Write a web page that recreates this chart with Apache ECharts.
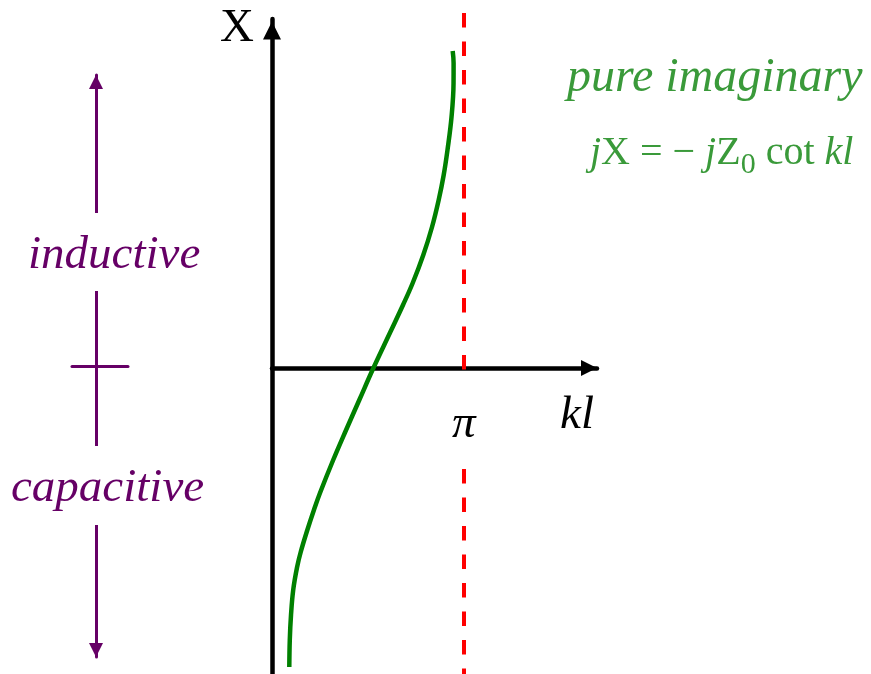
<!DOCTYPE html>
<html>
<head>
<meta charset="utf-8">
<script src="https://cdn.jsdelivr.net/npm/echarts@6/dist/echarts.min.js"></script>
<style>
  html, body { margin: 0; padding: 0; background: #fff; }
  #chart { width: 871px; height: 674px; }
</style>
</head>
<body>
<div id="chart"></div>
<script>
// Input reactance of a short-circuited stub: X = -Z0 cot(kl), sketched for 0 < kl < pi
const klValues  = [0.283, 0.291, 0.311, 0.347, 0.411, 0.470, 0.578, 0.686, 0.785, 1.001, 1.212, 1.428, 1.659,
                   1.936, 2.143, 2.302, 2.475, 2.618, 2.727, 2.809, 2.871, 2.937, 2.970, 2.971, 2.956];
const reactance = [-2.99, -2.72, -2.47, -2.22, -1.99, -1.84, -1.62, -1.42, -1.25, -0.92, -0.62, -0.32, 0.00,
                   0.36, 0.63, 0.85, 1.13, 1.41, 1.68, 1.93, 2.18, 2.51, 2.85, 3.05, 3.17];
const asymptoteKl = Math.PI;          // kl = pi, where the reactance diverges
const asymptoteLabel = 'π';
const xAxisName = 'kl';
const yAxisName = 'X';
const curveTitle = 'pure imaginary';
const upperRegion = 'inductive';
const lowerRegion = 'capacitive';

const klRange = [0, 5.317];
const xRange = [-3.06, 3.55];

const serif = '"Liberation Serif", "Times New Roman", serif';
const green = '#3a9a3a';
const purple = '#660066';
const arrow = 'path://M5,0L10,10L0,10Z';

const curveData = klValues.map((v, i) => [v, reactance[i]]);

const chart = echarts.init(document.getElementById('chart'), null, { renderer: 'canvas' });

const gridBase = { outerBoundsMode: 'none', containLabel: false };
const hiddenAxisParts = { axisTick: { show: false }, axisLabel: { show: false }, splitLine: { show: false } };

chart.setOption({
  animation: false,
  backgroundColor: '#fff',
  grid: [
    // plotting area of the curve and the kl axis
    Object.assign({ left: 272, right: 274, top: 13, bottom: 0 }, gridBase),
    // the X axis line with its arrow
    Object.assign({ left: 272, right: 274, top: 19, bottom: 0 }, gridBase),
    // inductive / capacitive guide on the left
    Object.assign({ left: 72, right: 743, top: 75, bottom: 17 }, gridBase)
  ],
  title: [
    {
      text: curveTitle, left: 567, top: 55, padding: 0,
      textStyle: { fontFamily: serif, fontStyle: 'italic', fontWeight: 'normal',
                   fontSize: 48, lineHeight: 47, color: green }
    },
    {
      text: '{i|j}{r|X = − }{i|j}{r|Z}{s|0}{r| cot }{i|kl}', left: 590, top: 130, padding: 0,
      textStyle: {
        color: green, fontWeight: 'normal', fontFamily: serif,
        rich: {
          r: { fontFamily: serif, fontWeight: 'normal', fontSize: 40, lineHeight: 46, color: green },
          i: { fontFamily: serif, fontWeight: 'normal', fontStyle: 'italic', fontSize: 40, lineHeight: 46, color: green },
          s: { fontFamily: serif, fontWeight: 'normal', fontSize: 30, lineHeight: 30, padding: [23.5, 0, 0, 0], color: green }
        }
      }
    },
    {
      text: upperRegion, left: 26, top: 213, padding: [19, 2, 12, 2], backgroundColor: '#fff',
      textStyle: { fontFamily: serif, fontStyle: 'italic', fontWeight: 'normal',
                   fontSize: 47, lineHeight: 47, color: purple }
    },
    {
      text: lowerRegion, left: 9, top: 446, padding: [19, 2, 13, 2], backgroundColor: '#fff',
      textStyle: { fontFamily: serif, fontStyle: 'italic', fontWeight: 'normal',
                   fontSize: 47, lineHeight: 47, color: purple }
    },
    {
      // label of the asymptote, on a white patch that interrupts the dashed line
      text: asymptoteLabel, left: 446, top: 376, padding: [25, 6, 10, 6], backgroundColor: '#fff', z: 20,
      textStyle: { fontFamily: serif, fontStyle: 'italic', fontWeight: 'normal',
                   fontSize: 47, lineHeight: 47, color: '#000' }
    }
  ],
  xAxis: [
    Object.assign({
      gridIndex: 0, type: 'value', min: klRange[0], max: klRange[1],
      axisLine: {
        onZero: true,
        lineStyle: { color: '#000', width: 4.5 },
        symbol: ['none', arrow], symbolSize: [16, 16], symbolOffset: [0, -8]
      },
      name: xAxisName, nameLocation: 'end', nameGap: -3,
      nameTextStyle: { fontFamily: serif, fontStyle: 'italic', fontSize: 47, lineHeight: 47,
                       color: '#000', align: 'right', verticalAlign: 'top', padding: [24, 0, 0, 0] }
    }, hiddenAxisParts),
    { gridIndex: 1, type: 'value', min: klRange[0], max: klRange[1], show: false },
    Object.assign({
      gridIndex: 2, type: 'value', min: -24, max: 32,
      axisLine: { onZero: true, lineStyle: { color: purple, width: 3 } }
    }, hiddenAxisParts)
  ],
  yAxis: [
    Object.assign({
      gridIndex: 0, type: 'value', min: xRange[0], max: xRange[1],
      axisLine: { show: false }
    }, hiddenAxisParts),
    Object.assign({
      gridIndex: 1, type: 'value', min: xRange[0], max: 3.49,
      axisLine: {
        onZero: true,
        lineStyle: { color: '#000', width: 4.5 },
        symbol: ['none', arrow], symbolSize: [18, 23], symbolOffset: [0, -11.5]
      },
      name: yAxisName, nameLocation: 'end', nameGap: 14,
      nameTextStyle: { fontFamily: serif, fontSize: 47, lineHeight: 47, color: '#000',
                       align: 'right', verticalAlign: 'top', padding: [0, 18, 0, 0] }
    }, hiddenAxisParts),
    Object.assign({
      gridIndex: 2, type: 'value', min: -1, max: 1,
      axisLine: {
        onZero: true,
        lineStyle: { color: purple, width: 3 },
        symbol: [arrow, arrow], symbolSize: [15, 14], symbolOffset: [7, -7]
      }
    }, hiddenAxisParts)
  ],
  series: [
    {
      type: 'line', xAxisIndex: 0, yAxisIndex: 0,
      data: curveData,
      showSymbol: false, smooth: 0.4,
      lineStyle: { color: '#008000', width: 4.5 },
      markLine: {
        silent: true, symbol: ['none', 'none'], label: { show: false },
        lineStyle: { color: '#ff0000', width: 4, type: [14.5, 14] },
        data: [[{ coord: [asymptoteKl, xRange[1]] }, { coord: [asymptoteKl, xRange[0]] }]]
      }
    }
  ]
});
</script>
</body>
</html>
